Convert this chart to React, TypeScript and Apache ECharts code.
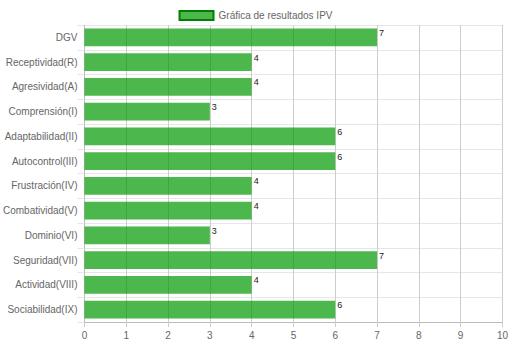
import React, { useEffect, useRef } from "react";
import * as echarts from "echarts";

const categories = [
  "DGV",
  "Receptividad(R)",
  "Agresividad(A)",
  "Comprensión(I)",
  "Adaptabilidad(II)",
  "Autocontrol(III)",
  "Frustración(IV)",
  "Combatividad(V)",
  "Dominio(VI)",
  "Seguridad(VII)",
  "Actividad(VIII)",
  "Sociabilidad(IX)",
];
const values = [7, 4, 4, 3, 6, 6, 4, 4, 3, 7, 4, 6];
const seriesName = "Gráfica de resultados IPV";

export default function App() {
  const ref = useRef<HTMLDivElement>(null);
  useEffect(() => {
    if (!ref.current) return;
    const chart = echarts.init(ref.current, undefined, { renderer: "svg" });
    const font = "'Liberation Sans', Arial, Helvetica, sans-serif";
    chart.setOption({
      animation: false,
      textStyle: { fontFamily: font },
      legend: {
        top: 5,
        left: "center",
        itemWidth: 34,
        itemHeight: 9,
        itemGap: 6,
        icon: "rect",
        itemStyle: { borderColor: "#008000", borderWidth: 2 },
        textStyle: { fontSize: 10, color: "#666", fontFamily: font },
        data: [seriesName],
      },
      grid: { left: 84, right: 7, top: 25, bottom: 22, containLabel: false },
      xAxis: {
        type: "value",
        min: 0,
        max: 10,
        interval: 1,
        axisLine: { show: true, lineStyle: { color: "#bbb" } },
        axisTick: { show: true, length: 5, lineStyle: { color: "#ccc" } },
        axisLabel: { color: "#666", fontSize: 10, margin: 8, fontFamily: font },
        splitLine: { show: true, lineStyle: { color: "#ccc", width: 1 } },
      },
      yAxis: {
        type: "category",
        inverse: true,
        data: categories,
        axisLine: { show: true, lineStyle: { color: "#bbb" } },
        axisTick: { show: true, length: 7, lineStyle: { color: "#e6e6e6" } },
        axisLabel: { color: "#666", fontSize: 10, margin: 7, fontFamily: font },
        splitLine: { show: true, lineStyle: { color: "#e6e6e6", width: 1 } },
      },
      series: [
        {
          name: seriesName,
          type: "bar",
          data: values,
          barWidth: "72%",
          itemStyle: { color: "rgba(0,153,0,0.7)" },
          label: {
            show: true,
            position: ["100%", 0],
            offset: [2, 0],
            align: "left",
            verticalAlign: "top",
            color: "#222",
            fontSize: 9,
            fontWeight: "normal",
            fontFamily: font,
          },
        },
      ],
    });
    return () => chart.dispose();
  }, []);
  return (
    <div
      ref={ref}
      style={{ position: "absolute", left: 0, top: 0, width: 511, height: 344 }}
    />
  );
}
